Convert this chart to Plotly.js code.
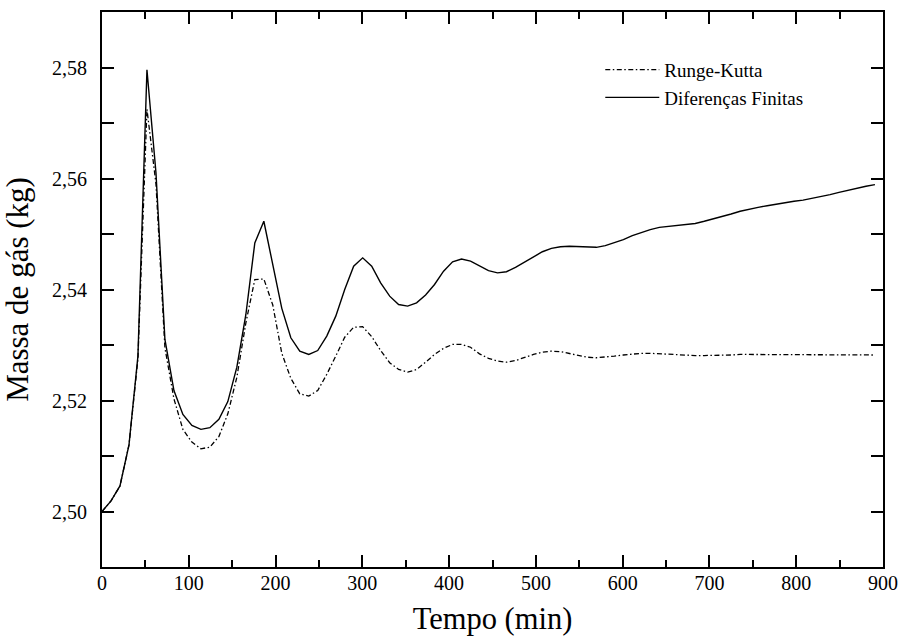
<!DOCTYPE html>
<html>
<head>
<meta charset="utf-8">
<script src="https://cdn.plot.ly/plotly-3.0.1.min.js"></script>
<style>html,body{margin:0;padding:0;background:#fff;}#chart{width:901px;height:643px;}</style>
</head>
<body>
<div id="chart"></div>
<script>
// Tempo (min)
const tempo = [0, 10.4, 20.7, 31.1, 41.4, 51.8, 62.2, 72.5, 82.9, 93.2, 103.6, 114, 124.3, 134.7, 145, 155.4, 165.8, 176.1, 186.5, 196.8,
  207.2, 217.6, 227.9, 238.3, 248.6, 259, 269.4, 279.7, 290, 300.4, 310.8, 321.1, 331.5, 341.8, 352.2, 362.5, 372.9, 383.2, 393.6, 404,
  414.3, 424.7, 435, 445.4, 455.8, 466.1, 476.5, 486.8, 497.2, 507.5, 517.9, 528.3, 538.6, 549, 559.3, 569.7, 580, 590.4, 600.8, 611.1,
  621.5, 631.8, 642.2, 652.5, 662.9, 673.3, 683.6, 694, 704.3, 714.7, 725, 735.4, 745.8, 756.1, 766.5, 776.8, 787.2, 797.5, 807.9, 818.2,
  828.6, 839, 849.3, 859.7, 870, 880.4, 890.7];

// Diferenças Finitas (kg)
const difFinitas = [2.5000, 2.5019, 2.5046, 2.5120, 2.5280, 2.5796, 2.5610, 2.5310, 2.5218, 2.5175, 2.5155, 2.5148, 2.5151, 2.5166, 2.5198, 2.5260, 2.5355, 2.5484, 2.5523, 2.5448,
  2.5366, 2.5313, 2.5289, 2.5283, 2.5290, 2.5316, 2.5352, 2.5400, 2.5442, 2.5457, 2.5442, 2.5412, 2.5388, 2.5373, 2.5370, 2.5376, 2.5390, 2.5409, 2.5433, 2.5450,
  2.5455, 2.5451, 2.5442, 2.5434, 2.5430, 2.5432, 2.5440, 2.5449, 2.5459, 2.5468, 2.5474, 2.5477, 2.5478, 2.5477, 2.5476, 2.5476, 2.5479, 2.5484, 2.5490, 2.5497,
  2.5503, 2.5508, 2.5512, 2.5514, 2.5515, 2.5517, 2.5519, 2.5523, 2.5527, 2.5531, 2.5536, 2.5541, 2.5545, 2.5548, 2.5551, 2.5554, 2.5557, 2.5559, 2.5561, 2.5564,
  2.5567, 2.5571, 2.5575, 2.5579, 2.5583, 2.5586, 2.5589];

// Runge-Kutta (kg)
const rungeKutta = [2.5000, 2.5019, 2.5046, 2.5120, 2.5275, 2.5725, 2.5590, 2.5295, 2.5203, 2.5148, 2.5125, 2.5113, 2.5116, 2.5135, 2.5176, 2.5242, 2.5340, 2.5418, 2.5419, 2.5372,
  2.5285, 2.5240, 2.5212, 2.5208, 2.5218, 2.5247, 2.5280, 2.5314, 2.5332, 2.5333, 2.5315, 2.5290, 2.5268, 2.5256, 2.5251, 2.5256, 2.5269, 2.5283, 2.5294, 2.5301,
  2.5301, 2.5296, 2.5284, 2.5276, 2.5271, 2.5269, 2.5272, 2.5278, 2.5283, 2.5287, 2.5289, 2.5288, 2.5285, 2.5281, 2.5278, 2.5277, 2.5278, 2.5280, 2.5282, 2.5284,
  2.5285, 2.5285, 2.5284, 2.5283, 2.5282, 2.5281, 2.5281, 2.5281, 2.5281, 2.5282, 2.5282, 2.5283, 2.5283, 2.5283, 2.5283, 2.5282, 2.5282, 2.5282, 2.5282, 2.5282,
  2.5282, 2.5282, 2.5282, 2.5282, 2.5282, 2.5282, 2.5282];

const xTicks = [0, 100, 200, 300, 400, 500, 600, 700, 800, 900];
const yTicks = [2.50, 2.52, 2.54, 2.56, 2.58];

const serif = 'Liberation Serif, Times New Roman, serif';

const traces = [
  {x: tempo, y: rungeKutta, type: 'scatter', mode: 'lines', name: 'Runge-Kutta',
   line: {color: '#000', width: 1.3, dash: '5px,2.5px,1.5px,2.5px'}},
  {x: tempo, y: difFinitas, type: 'scatter', mode: 'lines', name: 'Diferenças Finitas',
   line: {color: '#000', width: 1.4}}
];

const axisCommon = {
  showline: true, linecolor: '#000', linewidth: 2, mirror: 'ticks',
  ticks: 'inside', tickcolor: '#000', tickwidth: 2, ticklen: 12,
  showgrid: false, zeroline: false,
  tickfont: {family: serif, size: 20, color: '#000'}
};

const layout = {
  width: 901, height: 643,
  paper_bgcolor: '#fff', plot_bgcolor: '#fff',
  separators: ',.',
  margin: {l: 102, r: 18, t: 12, b: 76},
  showlegend: true,
  legend: {x: 0.638, y: 0.93, xanchor: 'left', yanchor: 'top', bgcolor: 'rgba(0,0,0,0)',
           font: {family: serif, size: 19, color: '#000'}, itemwidth: 54, tracegroupgap: 0},
  xaxis: Object.assign({}, axisCommon, {
    range: [0, 900], tickvals: xTicks, ticktext: xTicks.map(String),
    minor: {dtick: 50, ticklen: 7, tickwidth: 2, tickcolor: '#000', ticks: 'inside'},
    ticklabelstandoff: -3,
    title: {text: 'Tempo (min)', font: {family: serif, size: 30.5, color: '#000'}, standoff: 15}
  }),
  yaxis: Object.assign({}, axisCommon, {
    range: [2.49, 2.59], tickvals: yTicks, tickformat: '.2f',
    minor: {dtick: 0.01, ticklen: 12, tickwidth: 2, tickcolor: '#000', ticks: 'inside'},
    ticklabelstandoff: 9,
    title: {text: 'Massa de gás (kg)', font: {family: serif, size: 31, color: '#000'}, standoff: 15}
  })
};

Plotly.newPlot('chart', traces, layout, {displayModeBar: false, staticPlot: true});
</script>
</body>
</html>
